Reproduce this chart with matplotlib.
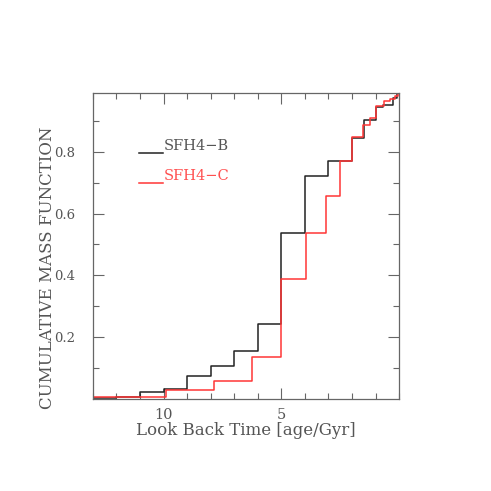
import numpy as np
import matplotlib.pyplot as plt
from matplotlib.ticker import FixedLocator, MultipleLocator

# look back time (Gyr) where each step starts, and cumulative mass fraction
age_b = [13, 12, 11, 10, 9, 8, 7, 6, 5, 4, 3, 2, 1.5, 1.0, 0.7, 0.25, 0.08, 0]
cum_b = [0.005, 0.008, 0.023, 0.032, 0.076, 0.109, 0.157, 0.243, 0.538,
         0.722, 0.769, 0.845, 0.903, 0.944, 0.951, 0.972, 1.0, 1.0]

age_c = [13, 9.9, 7.85, 6.25, 5.0, 3.95, 3.1, 2.5, 2.0, 1.55, 1.25, 1.0,
         0.65, 0.4, 0.18, 0.05, 0]
cum_c = [0.007, 0.029, 0.060, 0.138, 0.387, 0.536, 0.658, 0.771, 0.846,
         0.886, 0.907, 0.948, 0.962, 0.970, 0.978, 1.0, 1.0]

names = ["SFH4\u2212B", "SFH4\u2212C"]
xticks = [10, 5]
yticks = [0.2, 0.4, 0.6, 0.8]

plt.rcParams['font.family'] = ['DejaVu Serif']
gray = '#666666'
red = '#ff3535'

fig = plt.figure(figsize=(4.91, 4.91), dpi=100)
ax = fig.add_axes([0.189, 0.1866, 0.624, 0.6246])

ax.step(age_b, cum_b, where='post', color='#222222', lw=1.1)
ax.step(age_c, cum_c, where='post', color=red, lw=1.1)

ax.set_xlim(13, 0)
ax.set_ylim(0, 0.99)

ax.xaxis.set_major_locator(FixedLocator(xticks))
ax.xaxis.set_minor_locator(MultipleLocator(1))
ax.yaxis.set_major_locator(FixedLocator(yticks))
ax.yaxis.set_minor_locator(FixedLocator([0.1, 0.3, 0.5, 0.7, 0.9]))
ax.set_xticklabels([str(v) for v in xticks])
ax.set_yticklabels([f"{v:.1f}" for v in yticks])

ax.tick_params(which='both', direction='in', top=True, right=True,
               color=gray, labelcolor='#555555', width=0.8)
ax.tick_params(which='major', length=7.7)
ax.tick_params(which='minor', length=4.1)
ax.tick_params(axis='y', pad=12.5, labelsize=9.5)
ax.tick_params(axis='x', pad=6, labelsize=10.5)
for s in ax.spines.values():
    s.set_color(gray)
    s.set_linewidth(0.9)

ax.set_xlabel("Look Back Time [age/Gyr]", color='#555555', fontsize=12, labelpad=0)
ax.text(-0.148, 0.43, "CUMULATIVE MASS FUNCTION", transform=ax.transAxes,
        rotation=90, ha='center', va='center', color='#555555', fontsize=12)

# legend drawn by hand
for i, (name, col, tcol) in enumerate([(names[0], '#222222', '#555555'),
                                        (names[1], red, '#ff5050')]):
    yy = 0.805 - i * 0.10
    ax.plot([0.152, 0.23], [yy, yy], transform=ax.transAxes, color=col, lw=1.1)
    ax.text(0.232, yy, name, transform=ax.transAxes, color=tcol,
            fontsize=10.5, va='bottom', ha='left')

fig.savefig("out.png", dpi=100)
